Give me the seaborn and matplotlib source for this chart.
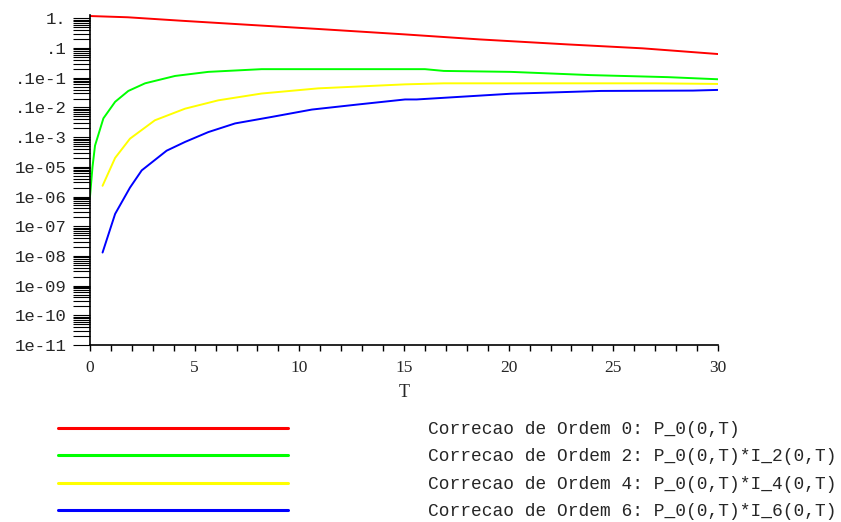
import numpy as np
import pandas as pd
import matplotlib
matplotlib.use("Agg")
import matplotlib.pyplot as plt
import matplotlib.ticker as mticker
import seaborn as sns

# curves (T, value)
t_ord0 = [0, 1.8, 4.4, 7.7, 10.9, 15.0, 18.6, 22.8, 26.4, 30.0]
p_ord0 = [1.2, 1.09, 0.83, 0.60, 0.44, 0.29, 0.196, 0.133, 0.098, 0.063]

t_ord2 = [0, 0.12, 0.24, 0.64, 1.2, 1.83, 2.63, 4.06, 5.65, 8.2, 16.0, 16.9, 20.1, 23.9, 27.6, 30.0]
p_ord2 = [1.0e-6, 1.0e-5, 5.2e-5, 4.3e-4, 1.55e-3, 3.6e-3, 6.5e-3, 1.15e-2, 1.58e-2,
          1.95e-2, 1.95e-2, 1.7e-2, 1.58e-2, 1.23e-2, 1.05e-2, 8.9e-3]

t_ord4 = [0.6, 1.2, 1.91, 3.1, 4.54, 6.13, 8.2, 10.9, 15.05, 16.9, 27.0, 30.0]
p_ord4 = [2.3e-6, 2.0e-5, 8.9e-5, 3.7e-4, 9.1e-4, 1.74e-3, 2.95e-3, 4.4e-3, 6.0e-3,
          6.5e-3, 6.5e-3, 6.2e-3]

t_ord6 = [0.6, 1.2, 1.91, 2.47, 3.66, 4.54, 5.65, 6.93, 8.68, 10.6, 12.8, 15.05, 15.6,
          20.1, 24.4, 28.8, 30.0]
p_ord6 = [1.3e-8, 2.6e-7, 2.0e-6, 7.6e-6, 3.5e-5, 6.9e-5, 1.48e-4, 2.9e-4, 4.8e-4,
          8.5e-4, 1.26e-3, 1.86e-3, 1.86e-3, 2.9e-3, 3.6e-3, 3.7e-3, 3.9e-3]

series_names = [
    "Correcao de Ordem 0: P_0(0,T)",
    "Correcao de Ordem 2: P_0(0,T)*I_2(0,T)",
    "Correcao de Ordem 4: P_0(0,T)*I_4(0,T)",
    "Correcao de Ordem 6: P_0(0,T)*I_6(0,T)",
]
series_colors = ["#ff0000", "#00ff00", "#ffff00", "#0000ff"]

ytick_vals = [10.0 ** k for k in range(-11, 1)]
ytick_labels = ["1e-11", "1e-10", "1e-09", "1e-08", "1e-07", "1e-06", "1e-05",
                ".1e-3", ".1e-2", ".1e-1", ".1", "1."]

frames = []
for name, t, p in zip(series_names, [t_ord0, t_ord2, t_ord4, t_ord6],
                      [p_ord0, p_ord2, p_ord4, p_ord6]):
    frames.append(pd.DataFrame({"T": t, "P": p, "serie": name}))
df = pd.concat(frames, ignore_index=True)

sns.set_style("ticks")
plt.rcParams["font.family"] = ["Liberation Mono", "DejaVu Sans Mono"]

fig = plt.figure(figsize=(8.41, 5.22), dpi=100)
ax = fig.add_axes([90 / 841, 177 / 522, 628 / 841, 330 / 522])

sns.lineplot(data=df, x="T", y="P", hue="serie", hue_order=series_names,
             palette=dict(zip(series_names, series_colors)), estimator=None,
             sort=False, linewidth=1.4, legend=False, ax=ax)

ax.set_yscale("log")
ax.set_xlim(0, 30)
ax.set_ylim(1e-11, 1.3)
ax.set_yticks(ytick_vals, ytick_labels)
ax.yaxis.set_minor_locator(mticker.LogLocator(base=10, subs=np.arange(2, 10), numticks=100))
ax.yaxis.set_minor_formatter(mticker.NullFormatter())
ax.set_xticks([0, 5, 10, 15, 20, 25, 30])
ax.xaxis.set_minor_locator(mticker.MultipleLocator(1))

ax.tick_params(axis="y", which="both", direction="out", length=12, width=0.8,
               color="black", labelsize=12.4, pad=5)
ax.tick_params(axis="x", which="both", direction="out", length=4.5, width=1.0,
               color="black", pad=6)
for lab in ax.get_xticklabels():
    lab.set_fontfamily("Liberation Serif")
    lab.set_fontsize(12.5)

sns.despine(ax=ax)
for s in ["left", "bottom"]:
    ax.spines[s].set_linewidth(1.2)
    ax.spines[s].set_color("black")

ax.set_xlabel("T", fontfamily="Liberation Serif", fontsize=13, labelpad=6)
ax.set_ylabel("")

leg = fig.legend(handles=ax.get_lines(), labels=series_names, loc="upper left",
                 bbox_to_anchor=(58 / 841, 1 - 421 / 522), frameon=False,
                 fontsize=12.9, handlelength=12.85, handletextpad=7.8,
                 labelspacing=0.58, borderpad=0, borderaxespad=0)
for h in leg.get_lines():
    h.set_linewidth(2.2)

fig.savefig("out.png", dpi=100)
